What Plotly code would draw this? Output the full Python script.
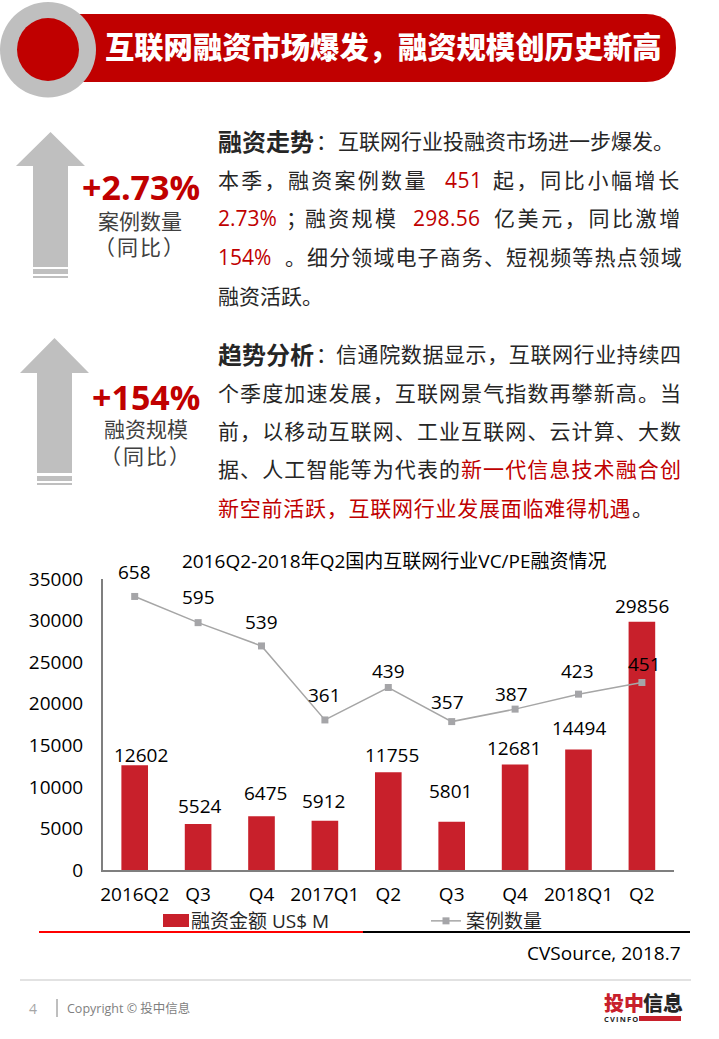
import plotly.graph_objects as go
from plotly.subplots import make_subplots

W, H = 719, 1039
CJK = "Open Sans, Noto Sans CJK SC, sans-serif"
RED = "#C00000"
DARK = "#262626"
ARROW = "#BFBFBF"
BAR = "#C8202B"

quarters = ["2016Q2", "Q3", "Q4", "2017Q1", "Q2", "Q3", "Q4", "2018Q1", "Q2"]
funding = [12602, 5524, 6475, 5912, 11755, 5801, 12681, 14494, 29856]
cases = [658, 595, 539, 361, 439, 357, 387, 423, 451]

# label nudges in px (x, y), the original labels were hand placed
funding_shift = [(6, 10), (2, 18), (4, 23), (-1, 20), (4, 17), (-1, 31), (-1, 17), (0, 21), (0, 16)]
cases_shift = [(0, 24), (0, 26), (0, 24), (0, 25), (0, 17), (-4, 20), (-4, 15), (-1, 23), (3, 19)]

# y, then (x, text, colour, letter spacing, size, bold) for each run
body_lines = [
    (141, [(217, "融资走势", DARK, 0, 24, True), (315, "：", DARK, 0, 21, False),
           (337, "互联网行业投融资市场进一步爆发。", DARK, 0, 21, False)]),
    (180, [(217, "本季，融资案例数量", DARK, 2.3, 21, False), (444, "451", RED, 0.5, 21, False),
           (492, "起，同比小幅增长", DARK, 2.6, 21, False)]),
    (218, [(217, "2.73%", RED, 0, 21, False), (285, "；", DARK, 0, 21, False), (304, "融资规模", DARK, 2.3, 21, False),
           (412, "298.56", RED, 0.3, 21, False), (493, "亿美元，同比激增", DARK, 2.6, 21, False)]),
    (257, [(217, "154%", RED, 0, 21, False),
           (284, "。细分领域电子商务、短视频等热点领域", DARK, 1.1, 21, False)]),
    (296, [(217, "融资活跃。", DARK, 0, 21, False)]),
    (354, [(217, "趋势分析", DARK, 0, 24, True), (315, "：", DARK, 0, 21, False),
           (335, "信通院数据显示，互联网行业持续四", DARK, 0.6, 21, False)]),
    (393, [(217, "个季度加速发展，互联网景气指数再攀新高。当", DARK, 1.1, 21, False)]),
    (431, [(217, "前，以移动互联网、工业互联网、云计算、大数", DARK, 1.1, 21, False)]),
    (469, [(217, "据、人工智能等为代表的", DARK, 1.1, 21, False),
           (460, "新一代信息技术融合创", RED, 1.1, 21, False)]),
    (508, [(217, "新空前活跃，互联网行业发展面临难得机遇", RED, 0.75, 21, False),
           (631, "。", DARK, 0, 21, False)]),
]


def sx(px):
    return px / W


def sy(py):
    return 1 - py / H


def page_text(x, y, text, size, color=DARK, anchor="left", weight=None, family=CJK):
    fig.add_annotation(xref="paper", yref="paper", x=sx(x), y=sy(y), text=text, showarrow=False,
                       xanchor=anchor, yanchor="middle", borderpad=0,
                       font=dict(size=size, color=color, family=family, weight=weight))


def page_shape(kind, x0, y0, x1, y1, color, width=0):
    fig.add_shape(type=kind, xref="paper", yref="paper", x0=sx(x0), y0=sy(y0), x1=sx(x1), y1=sy(y1),
                  fillcolor=color if kind != "line" else None, line=dict(color=color, width=width))


def arrow_path(tip_x, tip_y, base_y, foot_y):
    pts = [(tip_x, tip_y), (tip_x + 34.5, base_y), (tip_x + 17.5, base_y), (tip_x + 17.5, foot_y),
           (tip_x - 17.5, foot_y), (tip_x - 17.5, base_y), (tip_x - 34.5, base_y)]
    return "M" + " L".join(f"{sx(a):.5f},{sy(b):.5f}" for a, b in pts) + " Z"


fig = make_subplots(specs=[[{"secondary_y": True}]])

xs = list(range(len(quarters)))
fig.add_trace(go.Bar(x=xs, y=funding, name="融资金额 US$ M", marker=dict(color=BAR, line=dict(width=0)),
                     width=0.42), secondary_y=False)
fig.add_trace(go.Scatter(x=xs, y=cases, name="案例数量", mode="lines+markers", cliponaxis=False,
                         line=dict(color="#A6A6A6", width=1.5),
                         marker=dict(symbol="square", size=7, color="#A5A5A8")), secondary_y=True)

for i, v in enumerate(funding):
    fig.add_annotation(x=xs[i], y=v, xref="x", yref="y", text=str(v), showarrow=False, xshift=funding_shift[i][0],
                       yshift=funding_shift[i][1], font=dict(size=19, color="#000000", family=CJK))
for i, v in enumerate(cases):
    fig.add_annotation(x=xs[i], y=v, xref="x", yref="y2", text=str(v), showarrow=False, xshift=cases_shift[i][0],
                       yshift=cases_shift[i][1], font=dict(size=19, color="#000000", family=CJK))

# header
fig.add_shape(type="path", xref="paper", yref="paper", fillcolor=RED, line=dict(width=0),
              path=f"M{sx(70)},{sy(14)} L{sx(646)},{sy(14)} Q{sx(676)},{sy(14)} {sx(676)},{sy(48)} "
                   f"Q{sx(676)},{sy(82)} {sx(646)},{sy(82)} L{sx(70)},{sy(82)} Z")
page_shape("circle", 0, 2, 96, 97.5, ARROW)
page_shape("circle", 17, 18, 79, 81, RED)
page_text(103.5, 47, "互联网融资市场爆发，融资规模创历史新高", 29.3, "#FFFFFF", weight=900)

# arrows
for tip_x, tip_y, base_y, foot_y, bands in [(50.5, 132, 166, 267, [(269, 274), (276, 278)]),
                                            (54.5, 338, 373, 473, [(476, 481), (483, 485)])]:
    fig.add_shape(type="path", xref="paper", yref="paper", fillcolor=ARROW, line=dict(width=0),
                  path=arrow_path(tip_x, tip_y, base_y, foot_y))
    for b0, b1 in bands:
        page_shape("rect", tip_x - 17.5, b0, tip_x + 17.5, b1, ARROW)

page_text(141, 187, "+2.73%", 34, RED, "center", weight=700)
page_text(140, 221, "案例数量", 21, "#404040", "center")
page_text(140, 247, '<span style="letter-spacing:2px">（同比）</span>', 21, "#404040", "center")
page_text(146, 397, "+154%", 34, RED, "center", weight=700)
page_text(146, 429, "融资规模", 21, "#404040", "center")
page_text(146, 456, '<span style="letter-spacing:2px">（同比）</span>', 21, "#404040", "center")

for y, runs in body_lines:
    for x, text, color, spacing, size, bold in runs:
        label = f'<span style="letter-spacing:{spacing}px">{text}</span>' if spacing else text
        page_text(x, y, label, size, color, weight=700 if bold else None)

# chart furniture
page_text(394, 561, "2016Q2-2018年Q2国内互联网行业VC/PE融资情况", 19, "#000000", "center")
page_shape("rect", 163, 914, 189, 927, BAR)
page_shape("line", 39, 932, 363, 932, "#FF0000", 2)
page_shape("line", 363, 932, 690, 932, "#000000", 2)
page_text(682, 953, "CVSource, 2018.7", 19, "#000000", "right")

# footer
page_shape("line", 20, 980, 691, 980, "#D9D9D9", 1.5)
page_text(33, 1008, "4", 14, "#A6A6A6", "center")
page_shape("line", 57, 999, 57, 1017, "#7F7F7F", 1)
page_text(66, 1008, "Copyright © 投中信息", 12.5, "#7F7F7F")
page_text(603, 1003, "投中", 20, BAR, weight=900)
page_text(642, 1003, "信息", 20, "#262626", weight=900)
page_text(603, 1019, '<span style="letter-spacing:1.2px">CVINFO</span>', 7.5, "#262626", weight=700)
page_shape("rect", 639, 1016, 681, 1021, BAR)

fig.update_xaxes(domain=[sx(103), sx(673.6)], range=[-0.5, 8.5], tickmode="array", tickvals=xs, ticktext=quarters,
                 automargin=False, showgrid=False, zeroline=False, showline=True, linecolor="#7F7F7F", linewidth=2,
                 ticks="", ticklabelstandoff=6, tickfont=dict(size=19, color="#000000", family=CJK))
fig.update_yaxes(domain=[sy(870), sy(579)], range=[0, 35000], dtick=5000, automargin=False, showgrid=False,
                 zeroline=False, showline=True, linecolor="#7F7F7F", linewidth=2, ticks="", ticklabelstandoff=14,
                 tickformat="d", tickfont=dict(size=19, color="#000000", family=CJK), secondary_y=False)
fig.update_yaxes(range=[0, 700], visible=False, automargin=False, showgrid=False, secondary_y=True)

fig.update_layout(width=W, height=H, margin=dict(l=0, r=0, t=0, b=0), paper_bgcolor="#FFFFFF",
                  plot_bgcolor="#FFFFFF", font=dict(family=CJK), barmode="overlay", hovermode=False,
                  legend=dict(orientation="h", x=sx(151), y=sy(921), xanchor="left", yanchor="middle",
                              entrywidth=230, entrywidthmode="pixels", bgcolor="rgba(0,0,0,0)",
                              font=dict(size=19, color="#262626", family=CJK)))

# plotly's page keeps the browser's default 8px body margin
fig.write_html("out.html", config={"displayModeBar": False},
               post_script="document.body.style.margin='0';document.body.style.overflow='hidden';")
